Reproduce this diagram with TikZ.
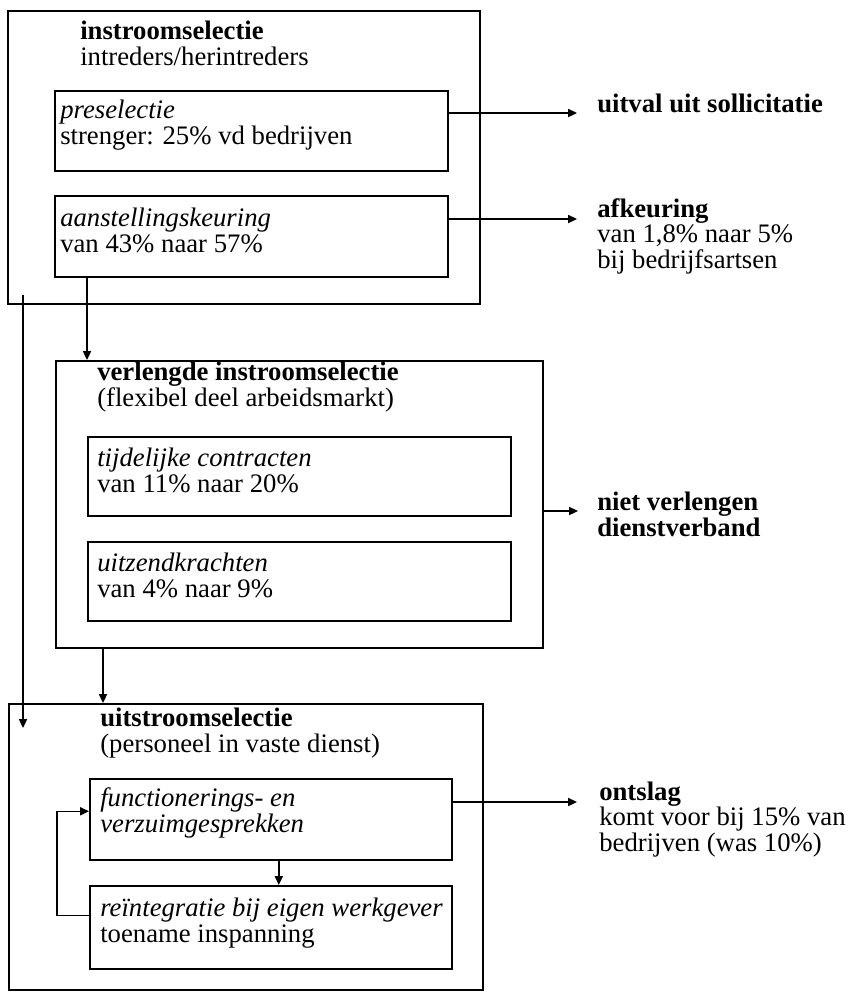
\documentclass[tikz,border=0pt]{standalone}
\usepackage{fontspec}
\setmainfont{Liberation Serif}
\usetikzlibrary{positioning,calc,arrows.meta}

\tikzset{
  box/.style={draw, line width=1.1pt, anchor=north west, inner sep=0pt},
  txt/.style={anchor=base west, inner sep=0pt, align=left, font=\fontsize{19}{17.8}\selectfont},
  arr/.style={line width=1.1pt, -{Triangle[length=2.2mm,width=2mm]}}
}

\begin{document}
\begin{tikzpicture}[x=0.25mm, y=-0.25mm]
    \useasboundingbox (0,0) rectangle (856,992);

    % instroomselectie (text nodes sit on the baseline of their last line)
    \node[box, minimum width=118mm, minimum height=73.25mm] (instroom) at (7,10) {};
    \node[txt] (instroomT) at (80,65) {\textbf{instroomselectie}\\intreders/herintreders};
    \node[box, minimum width=98.25mm, minimum height=20mm] (pre) at (54,90) {};
    \node[txt] (preT) at (60,144) {\textit{preselectie}\\strenger: 25\% vd bedrijven};
    \node[box, minimum width=98.25mm, minimum height=20.25mm] (aan) at (54,195) {};
    \node[txt] (aanT) at (60,252) {\textit{aanstellingskeuring}\\van 43\% naar 57\%};

    % verlengde instroomselectie
    \node[box, minimum width=121.75mm, minimum height=71.75mm] (verlengd) at (55,360) {};
    \node[txt] (verlengdT) at (97,406) {\textbf{verlengde instroomselectie}\\(flexibel deel arbeidsmarkt)};
    \node[box, minimum width=105.75mm, minimum height=19.75mm] (tij) at (87,436) {};
    \node[txt] (tijT) at (97,492) {\textit{tijdelijke contracten}\\van 11\% naar 20\%};
    \node[box, minimum width=105.75mm, minimum height=19.75mm] (uitz) at (87,541) {};
    \node[txt] (uitzT) at (97,597) {\textit{uitzendkrachten}\\van 4\% naar 9\%};

    % uitstroomselectie
    \node[box, minimum width=118.5mm, minimum height=71.5mm] (uitstroom) at (8,703) {};
    \node[txt] (uitstroomT) at (100,752) {\textbf{uitstroomselectie}\\(personeel in vaste dienst)};
    \node[box, minimum width=90.5mm, minimum height=20.25mm] (fun) at (89,778) {};
    \node[txt] (funT) at (100,832) {\textit{functionerings- en}\\\textit{verzuimgesprekken}};
    \node[box, minimum width=90.5mm, minimum height=20.75mm] (rei) at (89,885) {};
    \node[txt] (reiT) at (100,942) {\textit{reïntegratie bij eigen werkgever}\\toename inspanning};

    % uitkomsten
    \coordinate (uitvalTip) at (577,113);
    \coordinate (afkTip) at (577,219);
    \coordinate (nietTip) at (578,511);
    \coordinate (ontslagTip) at (577,802);
    \node[txt] (uitval) at ([shift={(20,-1)}]uitvalTip) {\textbf{uitval uit sollicitatie}};
    \node[txt] (afk) at ([shift={(20,49)}]afkTip) {\textbf{afkeuring}\\van 1,8\% naar 5\%\\bij bedrijfsartsen};
    \node[txt] (niet) at ([shift={(19,25)}]nietTip) {\textbf{niet verlengen}\\\textbf{dienstverband}};
    \node[txt] (ontslag) at ([shift={(22,49)}]ontslagTip) {\textbf{ontslag}\\komt voor bij 15\% van\\bedrijven (was 10\%)};

    \draw[arr] (pre.east |- uitvalTip) -- (uitvalTip);
    \draw[arr] (aan.east |- afkTip) -- (afkTip);
    \draw[arr] (verlengd.east |- nietTip) -- (nietTip);
    \draw[arr] (fun.east |- ontslagTip) -- (ontslagTip);

    % doorstroom
    \coordinate (skipEnd) at ([shift={(15,25)}]uitstroom.north west);
    \draw[arr] ([xshift=8.25mm]aan.south west) -- ([xshift=8.25mm]aan.south west |- verlengd.north);
    \draw[arr] ([xshift=12mm]verlengd.south west) -- ([xshift=12mm]verlengd.south west |- uitstroom.north);
    \draw[arr] ([shift={(16,-10)}]instroom.south west) -- (skipEnd);
    \draw[arr] ([xshift=2mm]fun.south) -- ([xshift=2mm]rei.north);
    \draw[arr] ([yshift=3mm]rei.west) -- ++(-32,0) |- ([yshift=2mm]fun.west);
\end{tikzpicture}
\end{document}
